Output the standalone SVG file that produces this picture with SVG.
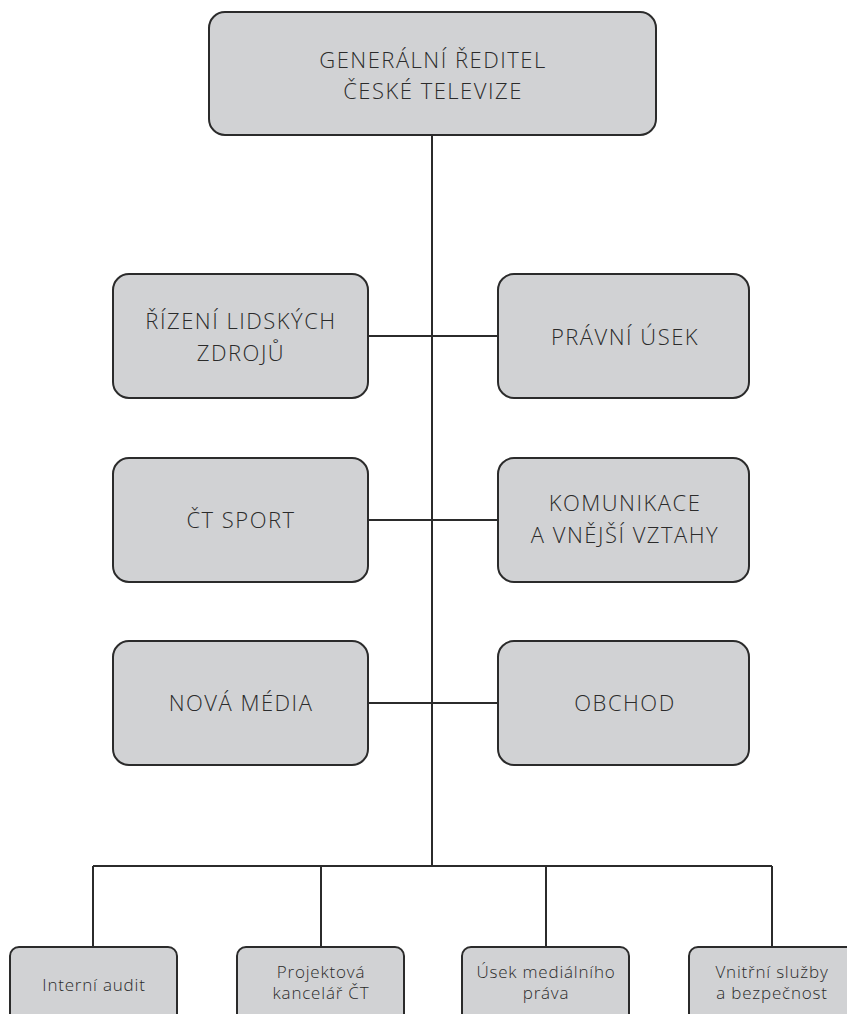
<svg xmlns="http://www.w3.org/2000/svg" width="847" height="1014" viewBox="0 0 847 1014">
<style>
.box{fill:#d1d2d4;stroke:#2b2b2b;stroke-width:2}
.ln{stroke:#2b2b2b;stroke-width:2;fill:none}
.t{font-family:"Open Sans","Noto Sans","Liberation Sans",sans-serif;font-weight:300;font-size:22px;letter-spacing:1.5px;fill:#2b2b2b;text-anchor:middle}
.s{font-family:"Open Sans","Noto Sans","Liberation Sans",sans-serif;font-weight:300;font-size:17px;letter-spacing:0.8px;fill:#2b2b2b;text-anchor:middle}
</style>
<rect width="847" height="1014" fill="#fff"/>
<g id="connectors">
<path class="ln" d="M432 135V866M368 336H498M368 520H498M368 703H498M93 866H772M93 866V947M321 866V947M546 866V947M772 866V947"/>
</g>
<g id="n-gr"><rect class="box" x="209" y="12" width="447" height="123" rx="16"/><text class="t" x="433" y="68">GENERÁLNÍ ŘEDITEL</text><text class="t" x="433" y="99">ČESKÉ TELEVIZE</text></g>
<g id="n-rlz"><rect class="box" x="113" y="274" width="255" height="124" rx="16"/><text class="t" x="241" y="329">ŘÍZENÍ LIDSKÝCH</text><text class="t" x="241" y="361">ZDROJŮ</text></g>
<g id="n-pu"><rect class="box" x="498" y="274" width="251" height="124" rx="16"/><text class="t" x="625" y="345">PRÁVNÍ ÚSEK</text></g>
<g id="n-sport"><rect class="box" x="113" y="458" width="255" height="124" rx="16"/><text class="t" x="241" y="528">ČT SPORT</text></g>
<g id="n-kom"><rect class="box" x="498" y="458" width="251" height="124" rx="16"/><text class="t" x="625" y="511">KOMUNIKACE</text><text class="t" x="625" y="543">A VNĚJŠÍ VZTAHY</text></g>
<g id="n-nm"><rect class="box" x="113" y="641" width="255" height="124" rx="16"/><text class="t" x="241" y="711">NOVÁ MÉDIA</text></g>
<g id="n-ob"><rect class="box" x="498" y="641" width="251" height="124" rx="16"/><text class="t" x="625" y="711">OBCHOD</text></g>
<g id="n-ia"><rect class="box" x="10" y="947" width="167" height="80" rx="9"/><text class="s" x="94" y="991">Interní audit</text></g>
<g id="n-pk"><rect class="box" x="237" y="947" width="167" height="80" rx="9"/><text class="s" x="321" y="978">Projektová</text><text class="s" x="321" y="999">kancelář ČT</text></g>
<g id="n-ump"><rect class="box" x="462" y="947" width="167" height="80" rx="9"/><text class="s" x="546" y="978">Úsek mediálního</text><text class="s" x="546" y="999">práva</text></g>
<g id="n-vs"><rect class="box" x="689" y="947" width="167" height="80" rx="9"/><text class="s" x="772" y="978">Vnitřní služby</text><text class="s" x="772" y="999">a bezpečnost</text></g>
</svg>
